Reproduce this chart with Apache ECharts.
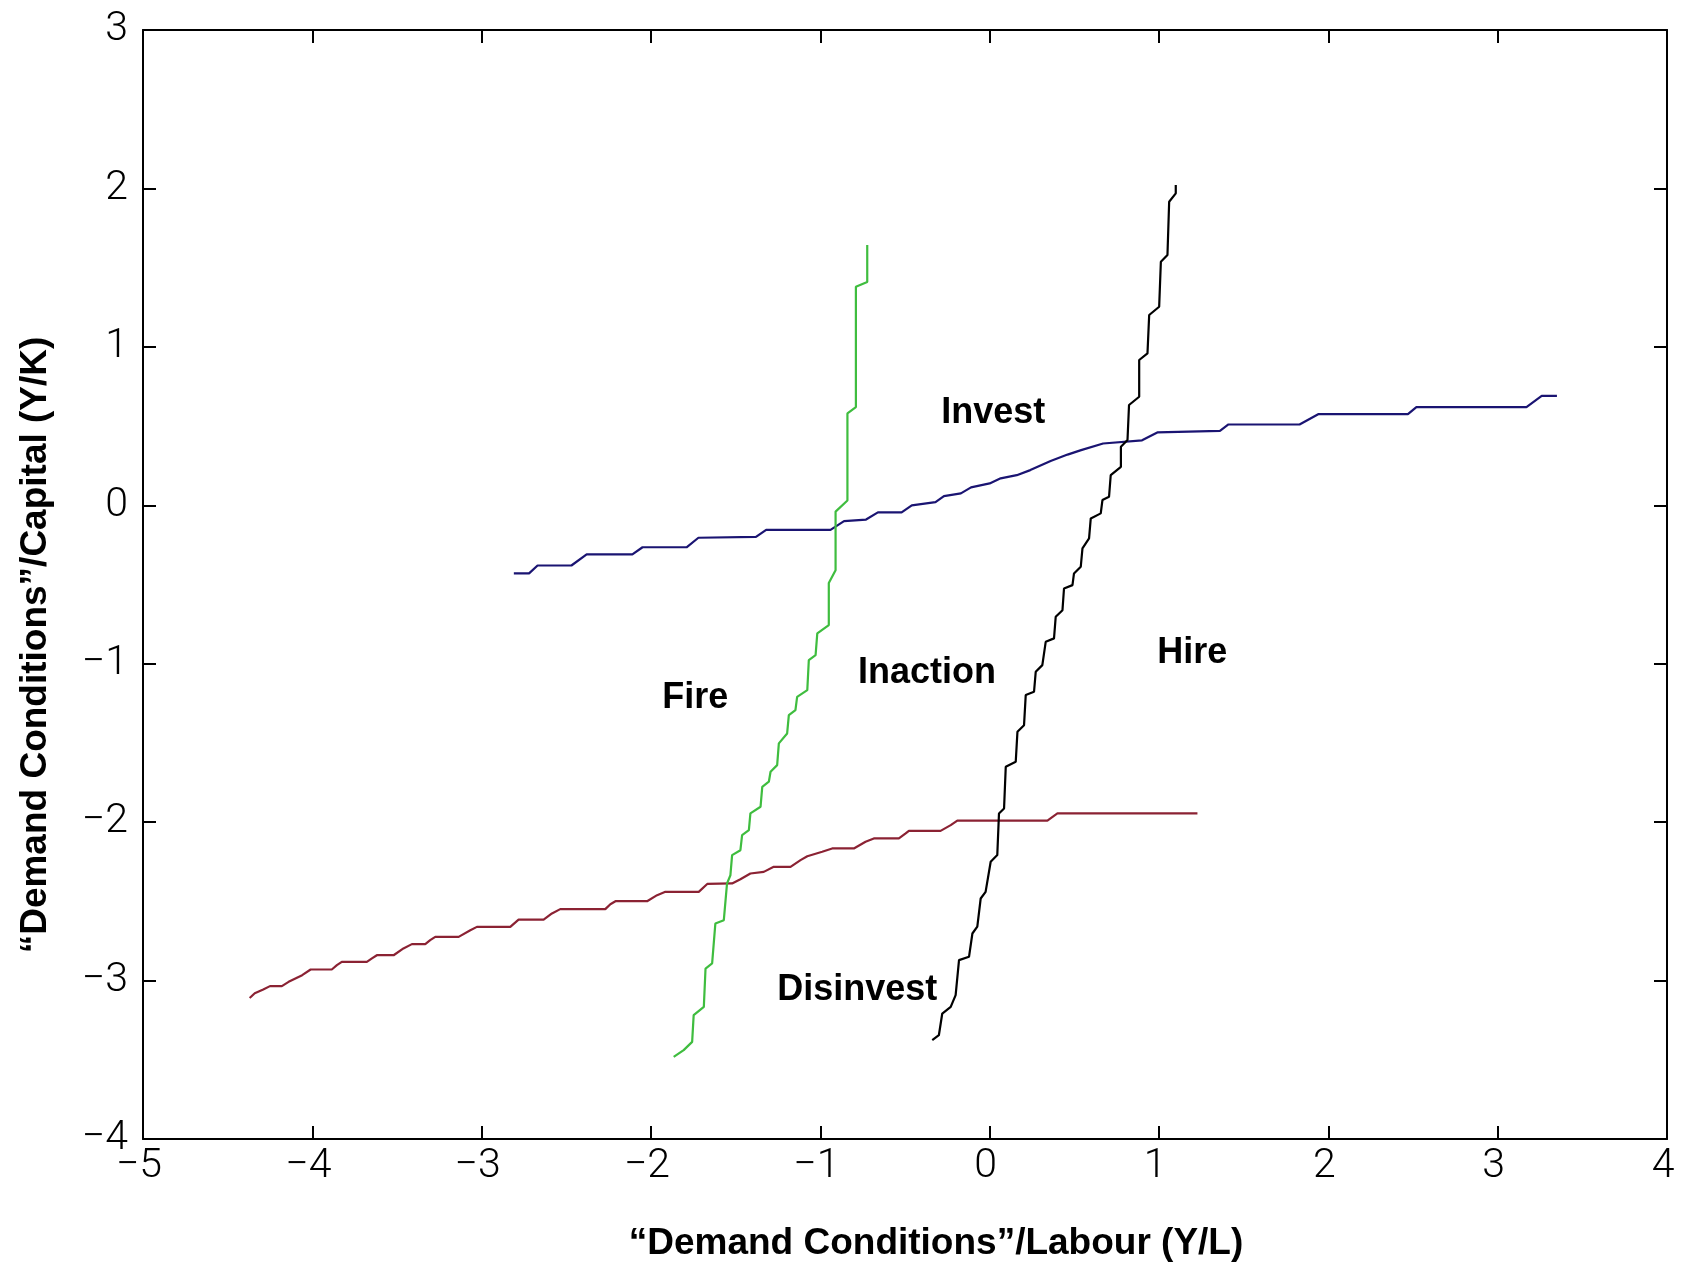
<!DOCTYPE html>
<html>
<head>
<meta charset="utf-8">
<script src="https://cdn.jsdelivr.net/npm/echarts@6/dist/echarts.min.js"></script>
<style>
  html, body { margin: 0; padding: 0; background: #fff; }
  #chart { width: 1685px; height: 1265px; }
</style>
</head>
<body>
<div id="chart"></div>
<script>
// ---- tick values ----
const xTicks = [-5, -4, -3, -2, -1, 0, 1, 2, 3, 4];
const yTicks = [-4, -3, -2, -1, 0, 1, 2, 3];

// ---- axis titles ----
const xTitle = '\u201CDemand Conditions\u201D/Labour (Y/L)';
const yTitle = '\u201CDemand Conditions\u201D/Capital (Y/K)';

// ---- boundary lines: [Y/L, Y/K] ----
// blue: invest threshold
const investLine = [
  [-2.81, -0.43], [-2.72, -0.43], [-2.67, -0.38], [-2.47, -0.38], [-2.38, -0.31], [-2.11, -0.31],
  [-2.05, -0.265], [-1.79, -0.265], [-1.72, -0.205], [-1.38, -0.20], [-1.32, -0.155], [-0.94, -0.155],
  [-0.86, -0.10], [-0.73, -0.09], [-0.66, -0.045], [-0.52, -0.045], [-0.46, 0.0], [-0.32, 0.02],
  [-0.27, 0.058], [-0.17, 0.075], [-0.11, 0.113], [0.0, 0.138], [0.065, 0.17], [0.16, 0.19],
  [0.24, 0.222], [0.36, 0.28], [0.46, 0.32], [0.54, 0.348], [0.67, 0.39], [0.90, 0.41],
  [0.99, 0.46], [1.36, 0.47], [1.41, 0.51], [1.83, 0.51], [1.94, 0.575], [2.47, 0.575],
  [2.52, 0.62], [3.17, 0.62], [3.26, 0.69], [3.35, 0.69]
];
// red: disinvest threshold
const disinvestLine = [
  [-4.37, -3.11], [-4.34, -3.08], [-4.29, -3.056], [-4.25, -3.035], [-4.18, -3.035], [-4.14, -3.008],
  [-4.06, -2.966], [-4.01, -2.93], [-3.885, -2.93], [-3.855, -2.903], [-3.826, -2.882], [-3.678, -2.882],
  [-3.648, -2.86], [-3.619, -2.84], [-3.52, -2.84], [-3.462, -2.797], [-3.412, -2.77], [-3.333, -2.77],
  [-3.304, -2.745], [-3.274, -2.724], [-3.136, -2.724], [-3.067, -2.682], [-3.028, -2.661], [-2.831, -2.661],
  [-2.782, -2.615], [-2.634, -2.615], [-2.585, -2.576], [-2.536, -2.549], [-2.27, -2.549], [-2.24, -2.518],
  [-2.21, -2.499], [-2.023, -2.499], [-1.964, -2.461], [-1.915, -2.44], [-1.718, -2.44], [-1.668, -2.39],
  [-1.521, -2.387], [-1.472, -2.36], [-1.413, -2.324], [-1.334, -2.314], [-1.275, -2.282], [-1.176, -2.282],
  [-1.117, -2.24], [-1.077, -2.215], [-0.989, -2.187], [-0.93, -2.166], [-0.802, -2.166], [-0.733, -2.124],
  [-0.684, -2.103], [-0.536, -2.103], [-0.496, -2.071], [-0.477, -2.055], [-0.29, -2.055], [-0.23, -2.019],
  [-0.191, -1.99], [0.341, -1.99], [0.40, -1.945], [1.227, -1.945]
];
// green: fire threshold
const fireLine = [
  [-1.866, -3.482], [-1.807, -3.439], [-1.757, -3.387], [-1.748, -3.218], [-1.688, -3.166], [-1.678, -2.924],
  [-1.639, -2.892], [-1.62, -2.64], [-1.57, -2.619], [-1.551, -2.387], [-1.531, -2.335], [-1.521, -2.208],
  [-1.472, -2.177], [-1.462, -2.082], [-1.422, -2.05], [-1.413, -1.945], [-1.353, -1.903], [-1.343, -1.777],
  [-1.304, -1.745], [-1.294, -1.682], [-1.255, -1.64], [-1.245, -1.503], [-1.196, -1.44], [-1.186, -1.325],
  [-1.147, -1.293], [-1.137, -1.209], [-1.077, -1.167], [-1.068, -0.977], [-1.028, -0.946], [-1.018, -0.809],
  [-0.95, -0.756], [-0.95, -0.49], [-0.91, -0.41], [-0.91, -0.04], [-0.84, 0.03], [-0.84, 0.58],
  [-0.79, 0.62], [-0.79, 1.38], [-0.723, 1.41], [-0.723, 1.643]
];
// black: hire threshold
const hireLine = [
  [-0.339, -3.376], [-0.30, -3.345], [-0.28, -3.208], [-0.23, -3.166], [-0.201, -3.092], [-0.181, -2.871],
  [-0.122, -2.85], [-0.102, -2.703], [-0.073, -2.66], [-0.053, -2.482], [-0.024, -2.44], [0.006, -2.25],
  [0.045, -2.208], [0.055, -1.945], [0.085, -1.914], [0.095, -1.651], [0.154, -1.619], [0.164, -1.43],
  [0.203, -1.388], [0.213, -1.198], [0.262, -1.177], [0.272, -1.051], [0.311, -1.009], [0.331, -0.862],
  [0.38, -0.84], [0.39, -0.704], [0.43, -0.662], [0.439, -0.525], [0.489, -0.504], [0.498, -0.43],
  [0.538, -0.388], [0.548, -0.272], [0.587, -0.209], [0.597, -0.083], [0.656, -0.051], [0.666, 0.033],
  [0.705, 0.054], [0.715, 0.191], [0.775, 0.243], [0.775, 0.37], [0.814, 0.412], [0.823, 0.633],
  [0.883, 0.685], [0.883, 0.917], [0.932, 0.959], [0.942, 1.201], [1.001, 1.253], [1.011, 1.537],
  [1.05, 1.58], [1.06, 1.916], [1.099, 1.969], [1.099, 2.021]
];

// ---- region labels (anchor at left edge / vertical middle, data coords) ----
const regionNames = ['Invest', 'Hire', 'Inaction', 'Fire', 'Disinvest'];
const regionX = [-0.286, 0.989, -0.778, -1.934, -1.255];
const regionY = [0.581, -0.931, -1.06, -1.218, -3.057];

// ---- chart ----
const chart = echarts.init(document.getElementById('chart'), null, { renderer: 'canvas' });

const fmt = v => (v < 0 ? '\u2212' + Math.abs(v) : String(v));
const tickFont = { color: '#000', fontFamily: 'Roboto', fontWeight: 300, fontSize: 41 };
const axisLineStyle = { color: '#000', width: 2 };

function mkX(position, showLabel) {
  return {
    type: 'value', position: position,
    min: xTicks[0], max: xTicks[xTicks.length - 1], interval: 1,
    axisLine: { show: true, onZero: false, lineStyle: axisLineStyle },
    axisTick: { show: true, inside: true, length: 13, lineStyle: axisLineStyle },
    axisLabel: Object.assign({ show: showLabel, margin: 7, formatter: fmt, padding: [0, 8, 0, 0] }, tickFont),
    splitLine: { show: false }
  };
}
function mkY(position, showLabel) {
  return {
    type: 'value', position: position,
    min: yTicks[0], max: yTicks[yTicks.length - 1], interval: 1,
    axisLine: { show: true, onZero: false, lineStyle: axisLineStyle },
    axisTick: { show: true, inside: true, length: 13, lineStyle: axisLineStyle },
    axisLabel: Object.assign({ show: showLabel, margin: 15, formatter: fmt }, tickFont),
    splitLine: { show: false }
  };
}
function mkLine(name, data, color) {
  return {
    type: 'line', name: name, data: data, xAxisIndex: 0, yAxisIndex: 0,
    symbol: 'none', showSymbol: false, smooth: false, silent: true,
    lineStyle: { color: color, width: 2.2 }
  };
}

const option = {
  animation: false,
  backgroundColor: '#ffffff',
  grid: { left: 143, right: 18, top: 30, bottom: 126, containLabel: false },
  xAxis: [mkX('bottom', true), mkX('top', false)],
  yAxis: [mkY('left', true), mkY('right', false)],
  series: [
    mkLine('Invest', investLine, '#1a1472'),
    mkLine('Disinvest', disinvestLine, '#8b2233'),
    mkLine('Hire', hireLine, '#000000'),
    mkLine('Fire', fireLine, '#3fbd3f'),
    {
      type: 'scatter', xAxisIndex: 0, yAxisIndex: 0, silent: true,
      symbol: 'circle', symbolSize: 0.01, itemStyle: { color: '#000', opacity: 1 },
      data: regionNames.map((n, i) => ({ name: n, value: [regionX[i], regionY[i]] })),
      label: {
        show: true, position: 'right', distance: 0, formatter: '{b}', opacity: 1,
        color: '#000000', textBorderWidth: 0,
        fontFamily: 'Liberation Sans, Arial, sans-serif', fontWeight: 'bold', fontSize: 36
      },
      emphasis: { disabled: true }
    }
  ],
  graphic: [
    {
      type: 'text', x: 936, y: 1244,
      style: { text: xTitle, fill: '#000', font: 'bold 37px "Liberation Sans", Arial, sans-serif',
               textAlign: 'center', textVerticalAlign: 'middle' }
    },
    {
      type: 'text', x: 36, y: 645, rotation: Math.PI / 2,
      style: { text: yTitle, fill: '#000', font: 'bold 37px "Liberation Sans", Arial, sans-serif',
               textAlign: 'center', textVerticalAlign: 'middle' }
    }
  ]
};
chart.setOption(option);
</script>
</body>
</html>
